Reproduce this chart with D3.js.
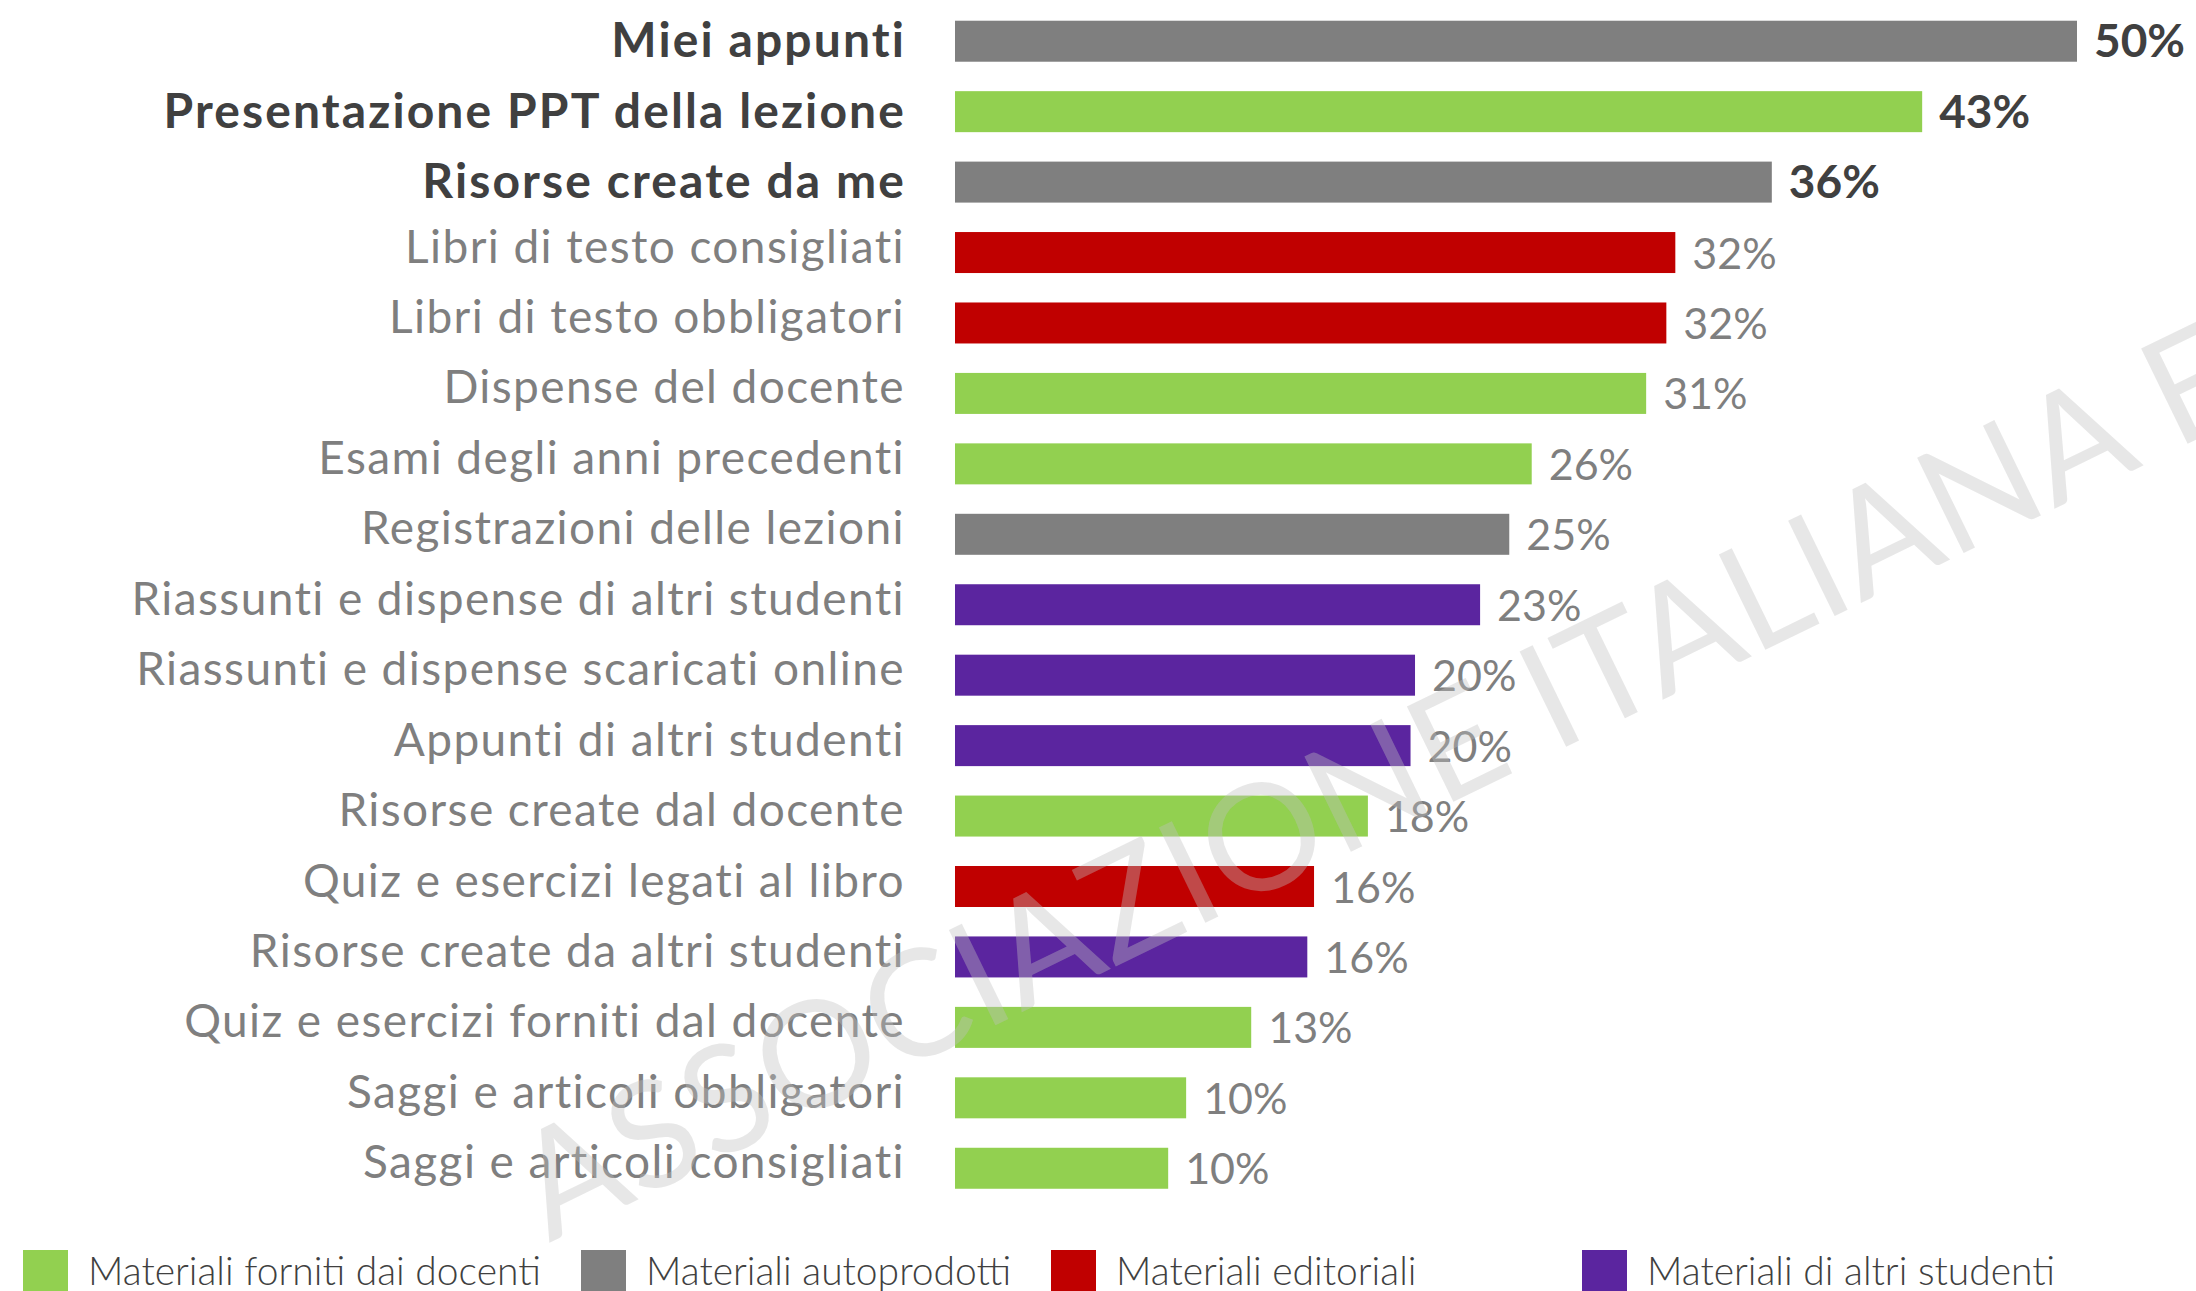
<!DOCTYPE html>
<html>
<head>
<meta charset="utf-8">
<script src="https://cdn.jsdelivr.net/npm/d3@7"></script>
<style>
  html, body { margin: 0; padding: 0; background: #fff; }
  svg { display: block; font-family: Lato, "Open Sans", sans-serif; }
</style>
</head>
<body>
<div id="chart"></div>
<script>
// values, top to bottom
const categories = [
  "Miei appunti",
  "Presentazione PPT della lezione",
  "Risorse create da me",
  "Libri di testo consigliati",
  "Libri di testo obbligatori",
  "Dispense del docente",
  "Esami degli anni precedenti",
  "Registrazioni delle lezioni",
  "Riassunti e dispense di altri studenti",
  "Riassunti e dispense scaricati online",
  "Appunti di altri studenti",
  "Risorse create dal docente",
  "Quiz e esercizi legati al libro",
  "Risorse create da altri studenti",
  "Quiz e esercizi forniti dal docente",
  "Saggi e articoli obbligatori",
  "Saggi e articoli consigliati"
];
const values = [50.0, 43.1, 36.4, 32.1, 31.7, 30.8, 25.7, 24.7, 23.4, 20.5, 20.3, 18.4, 16.0, 15.7, 13.2, 10.3, 9.5];
const valueLabels = ["50%", "43%", "36%", "32%", "32%", "31%", "26%", "25%", "23%", "20%", "20%", "18%", "16%", "16%", "13%", "10%", "10%"];
const groups = ["autoprodotti", "docenti", "autoprodotti", "editoriali", "editoriali", "docenti", "docenti", "autoprodotti",
  "studenti", "studenti", "studenti", "docenti", "editoriali", "studenti", "docenti", "docenti", "docenti"];
const highlighted = ["Miei appunti", "Presentazione PPT della lezione", "Risorse create da me"];

const legendKeys = ["docenti", "autoprodotti", "editoriali", "studenti"];
const legendLabels = ["Materiali forniti dai docenti", "Materiali autoprodotti", "Materiali editoriali", "Materiali di altri studenti"];
const groupColors = ["#92d050", "#7f7f7f", "#c00000", "#5b259f"];

const watermarkText = "ASSOCIAZIONE ITALIANA EDITORI";

const width = 2196;
const height = 1291;
const legendX = [23, 581, 1051, 1582];

const svg = d3.select("#chart").append("svg")
  .attr("width", width)
  .attr("height", height)
  .attr("viewBox", `0 0 ${width} ${height}`);

const color = d3.scaleOrdinal().domain(legendKeys).range(groupColors);
const x = d3.scaleLinear().domain([0, 50]).range([955, 2077]);
const y = d3.scaleBand().domain(categories).range([6, 6 + 17 * 70.44]).paddingInner(0.418).paddingOuter(0.209);

const rows = categories.map((c, i) => ({ cat: c, value: values[i], label: valueLabels[i], group: groups[i], bold: highlighted.includes(c) }));

svg.append("g").selectAll("rect").data(rows).join("rect")
  .attr("x", x(0))
  .attr("y", d => y(d.cat))
  .attr("width", d => x(d.value) - x(0))
  .attr("height", y.bandwidth())
  .attr("fill", d => color(d.group));

// category labels
svg.append("g").selectAll("text").data(rows).join("text")
  .attr("x", d => d.bold ? 906 : 905)
  .attr("y", d => y(d.cat) + y.bandwidth() / 2 + (d.bold ? 16 : 10))
  .attr("text-anchor", "end")
  .attr("font-size", d => d.bold ? 48 : 46)
  .attr("font-weight", d => d.bold ? 700 : 400)
  .attr("letter-spacing", d => d.bold ? 2.1 : 1.4)
  .attr("fill", d => d.bold ? "#404040" : "#7f7f7f")
  .text(d => d.cat);

// value labels
svg.append("g").selectAll("text").data(rows).join("text")
  .attr("x", d => x(d.value) + 17)
  .attr("y", d => y(d.cat) + y.bandwidth() / 2 + 16)
  .attr("font-size", d => d.bold ? 46 : 43)
  .attr("font-weight", d => d.bold ? 700 : 400)
  .attr("fill", d => d.bold ? "#404040" : "#7f7f7f")
  .text(d => d.label);

// legend
const legend = svg.append("g").selectAll("g").data(legendKeys).join("g")
  .attr("transform", (d, i) => `translate(${legendX[i]},0)`);
legend.append("rect")
  .attr("x", 0).attr("y", 1250).attr("width", 45).attr("height", 50)
  .attr("fill", d => color(d));
legend.append("text")
  .attr("x", 65).attr("y", 1285)
  .attr("font-size", 39)
  .attr("font-weight", 300)
  .attr("fill", "#404040")
  .text((d, i) => legendLabels[i]);

// watermark
svg.append("text")
  .attr("transform", "translate(549,1243) rotate(-26)")
  .attr("font-size", 148)
  .attr("font-weight", 400)
  .attr("letter-spacing", 1)
  .attr("fill", "#bfbfbf")
  .attr("fill-opacity", 0.38)
  .text(watermarkText);
</script>
</body>
</html>
